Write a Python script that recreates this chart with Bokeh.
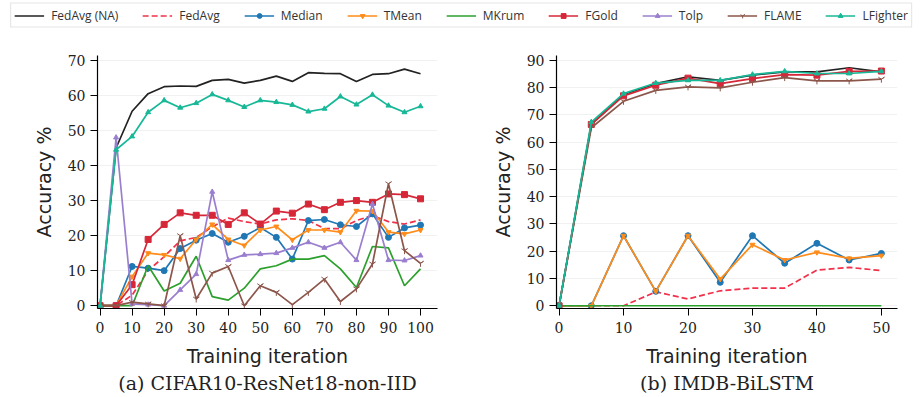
from bokeh.plotting import figure
from bokeh.models import Legend, LegendItem, Range1d, FixedTicker
from bokeh.layouts import column, row
from bokeh.embed import file_html
from bokeh.resources import INLINE

# ---------------- data: CIFAR10-ResNet18-non-IID ----------------
it_cifar = [0, 5, 10, 15, 20, 25, 30, 35, 40, 45, 50, 55, 60, 65, 70, 75, 80, 85, 90, 95, 100]
c_fedavg_na = [0, 45, 55.5, 60.5, 62.5, 62.7, 62.6, 64.3, 64.6, 63.5, 64.3, 65.5, 64, 66.5, 66.3, 66.2, 64, 66, 66.2, 67.5, 66.2]
c_fedavg = [0, 0, 3, 10, 14, 18.5, 19.5, 22.5, 25, 24, 23.3, 24.5, 24.8, 24.3, 22, 22, 24.3, 25.7, 24, 23.3, 24.5]
c_median = [0, 0, 11.2, 10.7, 10, 16.3, 18.7, 20.6, 18.1, 19.8, 22.3, 19.5, 13.3, 24.3, 24.6, 23.1, 22.6, 26.2, 19.5, 22.2, 23]
c_tmean = [0, 0, 8.3, 15, 14.5, 13.4, 18.9, 23.2, 18.9, 17.2, 21.6, 22.6, 18.8, 21.6, 21.6, 21, 27.1, 27, 21, 20.5, 21.6]
c_mkrum = [0, 0, 0, 11.4, 4.2, 6.4, 14.1, 2.6, 1.6, 5, 10.5, 11.4, 13.3, 13.3, 14.3, 10.5, 5.2, 16.9, 16.5, 5.7, 10.5]
c_fgold = [0, 0, 6, 18.9, 23.2, 26.5, 25.8, 25.8, 23.2, 26.5, 23.3, 27, 26.4, 29, 27.4, 29.5, 30, 29.5, 31.9, 31.7, 30.5]
c_tolp = [0, 48, 0.5, 0.3, 0, 4.5, 9, 32.5, 13, 14.5, 14.7, 15, 16.5, 18.1, 16.5, 18.1, 13, 29, 13, 12.9, 14.3]
c_flame = [0, 0, 1, 0.5, 0, 20, 1.9, 9.3, 11.2, 0, 5.7, 3.8, 0.3, 3.8, 7.6, 1.2, 4.8, 11.9, 34.8, 15.7, 12.1]
c_lfighter = [0, 44.5, 48.3, 55.2, 58.6, 56.5, 57.8, 60.3, 58.6, 56.7, 58.6, 58.1, 57.3, 55.4, 56.2, 59.7, 57.4, 60.2, 57.1, 55.2, 56.9]

# ---------------- data: IMDB-BiLSTM ----------------
it_imdb = [0, 5, 10, 15, 20, 25, 30, 35, 40, 45, 50]
i_fedavg_na = [0, 66.5, 77.5, 81.5, 84, 82.7, 84.6, 85.8, 85.8, 87.3, 85.8]
i_fedavg = [0, 0, 0, 5.1, 2.5, 5.5, 6.5, 6.5, 13.1, 14.1, 12.9]
i_median = [0, 0, 25.7, 5.3, 25.7, 8.6, 25.7, 15.6, 22.9, 16.8, 19.2]
i_tmean = [0, 0, 25.7, 5.3, 25.7, 9.8, 22.4, 16.8, 19.6, 17.4, 18.4]
i_mkrum = [0, 0, 0, 0, 0, 0, 0, 0, 0, 0, 0]
i_fgold = [0, 66.5, 77, 80.9, 83.5, 81.5, 83.3, 84.8, 84.6, 86, 86.1]
i_flame = [0, 65.3, 75, 79, 80.3, 79.9, 82, 83.7, 82.5, 82.5, 83.1]
i_lfighter = [0, 67.4, 77.8, 81.7, 82.7, 82.7, 84.8, 86, 85.2, 85.2, 86]

cifar_ticks_x = [0, 10, 20, 30, 40, 50, 60, 70, 80, 90, 100]
cifar_ticks_y = [0, 10, 20, 30, 40, 50, 60, 70]
imdb_ticks_x = [0, 10, 20, 30, 40, 50]
imdb_ticks_y = [0, 10, 20, 30, 40, 50, 60, 70, 80, 90]

# ---------------- styles ----------------
STY = {
    "FedAvg (NA)": dict(color="#222222", dash="solid", marker=None, size=0),
    "FedAvg": dict(color="#f2304a", dash="6 3", marker=None, size=0),
    "Median": dict(color="#1f77b4", dash="solid", marker="circle", size=6),
    "TMean": dict(color="#ff8c1a", dash="solid", marker="inverted_triangle", size=5),
    "MKrum": dict(color="#2ca02c", dash="solid", marker="triangle_left", size=6),
    "FGold": dict(color="#d62738", dash="solid", marker="square", size=6),
    "Tolp": dict(color="#9a7fcf", dash="solid", marker="triangle", size=5),
    "FLAME": dict(color="#8c564b", dash="solid", marker="y", size=7),
    "LFighter": dict(color="#17b897", dash="solid", marker="triangle", size=5),
}
ORDER = ["FedAvg (NA)", "FedAvg", "Median", "TMean", "MKrum", "FGold", "Tolp", "FLAME", "LFighter"]

SERIF = "DejaVu Serif"
SANS = "DejaVu Sans"


def add_series(p, name, xs, ys):
    s = STY[name]
    rs = [p.line(xs, ys, line_color=s["color"], line_width=1.7, line_dash=s["dash"])]
    if s["marker"]:
        rs.append(p.scatter(xs, ys, marker=s["marker"], size=s["size"], fill_color=s["color"],
                            line_color=s["color"], line_width=1))
    return rs


def make_fig(caption, xr, yr, xt, yt, fw, fh, bl, br):
    p = figure(frame_width=fw, frame_height=fh, x_range=xr, y_range=yr,
               output_backend="svg", toolbar_location=None,
               min_border_left=bl, min_border_right=br, min_border_top=25, min_border_bottom=60,
               title=caption, title_location="below")
    p.outline_line_color = None
    p.background_fill_color = "white"
    p.border_fill_color = "white"
    p.xgrid.grid_line_color = None
    p.ygrid.grid_line_color = "#f1f1f1"
    p.xaxis.ticker = FixedTicker(ticks=xt)
    p.yaxis.ticker = FixedTicker(ticks=yt)
    for ax in (p.xaxis[0], p.yaxis[0]):
        ax.minor_tick_line_color = None
        ax.major_tick_in = 0
        ax.major_tick_out = 7
        ax.axis_line_width = 1.2
        ax.axis_line_color = "black"
        ax.major_tick_line_color = "black"
        ax.major_label_text_font = SERIF
        ax.major_label_text_font_size = "14px"
        ax.major_label_text_color = "#222222"
        ax.axis_label_text_font = SANS
        ax.axis_label_text_font_size = "19px"
        ax.axis_label_text_font_style = "normal"
        ax.axis_label_text_color = "#222222"
    p.xaxis.axis_label = "Training iteration"
    p.yaxis.axis_label = "Accuracy %"
    p.xaxis.major_label_standoff = 6
    p.xaxis.axis_label_standoff = 9
    p.yaxis.major_label_standoff = 5
    p.yaxis.axis_label_standoff = 10
    p.title.align = "center"
    p.title.text_font = SERIF
    p.title.text_font_size = "19px"
    p.title.text_font_style = "normal"
    p.title.text_color = "#222222"
    p.title.standoff = 1
    return p


p1 = make_fig("(a) CIFAR10-ResNet18-non-IID", Range1d(-0.8, 105.3), Range1d(-0.8, 71.4),
              cifar_ticks_x, cifar_ticks_y, 340, 253, 97, 22)
cdata = {"FedAvg (NA)": c_fedavg_na, "FedAvg": c_fedavg, "Median": c_median, "TMean": c_tmean,
         "MKrum": c_mkrum, "FGold": c_fgold, "Tolp": c_tolp, "FLAME": c_flame, "LFighter": c_lfighter}
for n in ORDER:
    add_series(p1, n, it_cifar, cdata[n])

p2 = make_fig("(b) IMDB-BiLSTM", Range1d(-0.4, 52.5), Range1d(-1.0, 91.8),
              imdb_ticks_x, imdb_ticks_y, 341, 253, 97, 17)
idata = {"FedAvg (NA)": i_fedavg_na, "FedAvg": i_fedavg, "Median": i_median, "TMean": i_tmean,
         "MKrum": i_mkrum, "FGold": i_fgold, "FLAME": i_flame, "LFighter": i_lfighter}
for n in ORDER:
    if n in idata:
        add_series(p2, n, it_imdb, idata[n])

# ---------------- legend strip ----------------
pl = figure(width=922, height=30, x_range=Range1d(1000, 1001), y_range=Range1d(1000, 1001),
            output_backend="svg", toolbar_location=None, min_border=0,
            x_axis_type=None, y_axis_type=None)
pl.outline_line_color = None
pl.xgrid.grid_line_color = None
pl.ygrid.grid_line_color = None
items = []
for n in ORDER:
    rs = add_series(pl, n, [0, 1], [0, 1])
    items.append(LegendItem(label=n, renderers=rs))
leg = Legend(items=items, orientation="horizontal", location="center",
             label_text_font="Open Sans", label_text_font_size="12px", label_text_color="#333333",
             glyph_width=30, glyph_height=12, label_standoff=7, spacing=24,
             padding=3, margin=0, border_line_color="#dddddd", border_line_alpha=0.8,
             background_fill_alpha=1.0)
pl.add_layout(leg, "center")

layout = column(pl, row(p1, p2), spacing=0)
open("out.html", "w").write(file_html(layout, INLINE))
